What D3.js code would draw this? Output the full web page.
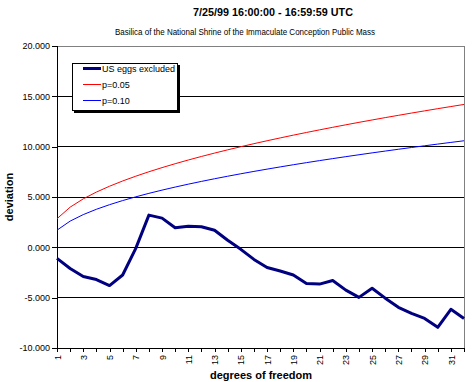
<!DOCTYPE html>
<html>
<head>
<meta charset="utf-8">
<script src="https://cdn.jsdelivr.net/npm/d3@7"></script>
<style>
html,body{margin:0;padding:0;background:#fff;}
svg{display:block;font-family:"Liberation Sans",Arial,sans-serif;}
</style>
</head>
<body>
<svg id="chart" width="472" height="382"></svg>
<script>
const title = "7/25/99 16:00:00 - 16:59:59 UTC";
const subtitle = "Basilica of the National Shrine of the Immaculate Conception Public Mass";
const xTitle = "degrees of freedom";
const yTitle = "deviation";

const degrees = d3.range(1, 33);
const xTickLabels = [1,3,5,7,9,11,13,15,17,19,21,23,25,27,29,31];
const yTicks = [-10, -5, 0, 5, 10, 15, 20];

const usEggs = [-1.1,-2.1,-2.9,-3.2,-3.8,-2.75,-0.1,3.2,2.9,1.95,2.1,2.05,1.7,0.7,-0.2,-1.2,
  -2.0,-2.35,-2.75,-3.6,-3.65,-3.3,-4.25,-4.97,-4.07,-5.05,-5.96,-6.56,-7.06,-7.95,-6.16,-7.06];
const p05 = [2.841,3.991,4.815,5.488,6.070,6.592,7.067,7.507,7.919,8.307,8.675,9.026,9.362,9.685,9.996,10.296,
  10.587,10.869,11.144,11.410,11.671,11.924,12.172,12.415,12.652,12.885,13.113,13.337,13.557,13.773,13.985,14.194];
const p10 = [1.706,2.605,3.251,3.779,4.236,4.645,5.017,5.362,5.684,5.987,6.275,6.549,6.812,7.064,7.307,7.542,
  7.769,7.989,8.204,8.412,8.615,8.813,9.007,9.196,9.382,9.563,9.741,9.916,10.087,10.256,10.422,10.585];

const seriesNames = ["US eggs excluded", "p=0.05", "p=0.10"];
const seriesColors = ["#000080", "#ff0000", "#0000ff"];
const seriesWidths = [3, 1, 1];

const svg = d3.select("#chart");
const L = 57, R = 464, T = 46, B = 348;

const x = d3.scalePoint().domain(degrees).range([L, R]);
const y = d3.scaleLinear().domain([-10, 20]).range([B, T]);
const loc = d3.formatLocale({decimal: ".", thousands: ",", grouping: [3], currency: ["$", ""], minus: "-"});
const fmt = loc.format(".3f");

// titles
svg.append("text").attr("x", 273).attr("y", 16).attr("text-anchor", "middle")
  .attr("font-size", 11).attr("font-weight", "bold").attr("textLength", 160).attr("lengthAdjust", "spacingAndGlyphs")
  .text(title);
svg.append("text").attr("x", 245).attr("y", 35).attr("text-anchor", "middle")
  .attr("font-size", 9.5).attr("textLength", 260).attr("lengthAdjust", "spacingAndGlyphs")
  .text(subtitle);

// gridlines
svg.append("g").selectAll("line").data(yTicks.filter(v => v > -10 && v < 20)).join("line")
  .attr("x1", L).attr("x2", R).attr("y1", d => y(d)).attr("y2", d => y(d))
  .attr("stroke", "#000").attr("stroke-width", 1).attr("shape-rendering", "crispEdges");

// plot border top/right gray
svg.append("line").attr("x1", L).attr("x2", R).attr("y1", T).attr("y2", T)
  .attr("stroke", "#808080").attr("shape-rendering", "crispEdges");
svg.append("line").attr("x1", R).attr("x2", R).attr("y1", T).attr("y2", B)
  .attr("stroke", "#808080").attr("shape-rendering", "crispEdges");

// y axis
const yAxis = d3.axisLeft(y).tickValues(yTicks).tickFormat(fmt).tickSize(5).tickPadding(2);
const gy = svg.append("g").attr("transform", `translate(${L},0)`).call(yAxis);
gy.select(".domain").attr("stroke", "#000").attr("shape-rendering", "crispEdges");
gy.selectAll(".tick line").attr("stroke", "#000").attr("shape-rendering", "crispEdges");
gy.selectAll(".tick text").attr("font-size", 9).attr("fill", "#000")
  .attr("font-family", "Liberation Sans, Arial, sans-serif");

// x axis
const xAxis = d3.axisBottom(x).tickValues(degrees).tickFormat(d => xTickLabels.includes(d) ? String(d) : "").tickSize(4).tickSizeOuter(0);
const gx = svg.append("g").attr("transform", `translate(0,${B})`).call(xAxis);
gx.select(".domain").attr("stroke", "#000").attr("shape-rendering", "crispEdges");
gx.selectAll(".tick line").attr("stroke", "#000").attr("shape-rendering", "crispEdges");
gx.selectAll(".tick text").attr("font-size", 9).attr("fill", "#000")
  .attr("font-family", "Liberation Sans, Arial, sans-serif")
  .attr("transform", "translate(0,7) rotate(-90)")
  .attr("text-anchor", "end").attr("x", 0).attr("y", 0).attr("dy", "0.35em");

// axis titles
svg.append("text").attr("x", 261).attr("y", 379).attr("text-anchor", "middle")
  .attr("font-size", 11).attr("font-weight", "bold").text(xTitle);
svg.append("text").attr("transform", "translate(13,197) rotate(-90)").attr("text-anchor", "middle")
  .attr("font-size", 11).attr("font-weight", "bold").text(yTitle);

// lines
const allSeries = [usEggs, p05, p10];
const line = d3.line().x((d, i) => x(degrees[i])).y(d => y(d));
[2, 1, 0].forEach(k => {
  svg.append("path").datum(allSeries[k]).attr("d", line)
    .attr("fill", "none").attr("stroke", seriesColors[k]).attr("stroke-width", seriesWidths[k])
    .attr("stroke-linejoin", "round");
});

// legend
const lg = svg.append("g");
lg.append("rect").attr("x", 74).attr("y", 65).attr("width", 106).attr("height", 48).attr("fill", "#000");
lg.append("rect").attr("x", 72.5).attr("y", 63.5).attr("width", 105).attr("height", 47)
  .attr("fill", "#fff").attr("stroke", "#000").attr("stroke-width", 1);
const rowY = [68.5, 84.5, 100.5];
seriesNames.forEach((n, i) => {
  lg.append("line").attr("x1", 83).attr("x2", 101).attr("y1", rowY[i]).attr("y2", rowY[i])
    .attr("stroke", seriesColors[i]).attr("stroke-width", seriesWidths[i]);
  lg.append("text").attr("x", 102).attr("y", rowY[i] + 3.5).attr("font-size", 9).text(n);
});
</script>
</body>
</html>
